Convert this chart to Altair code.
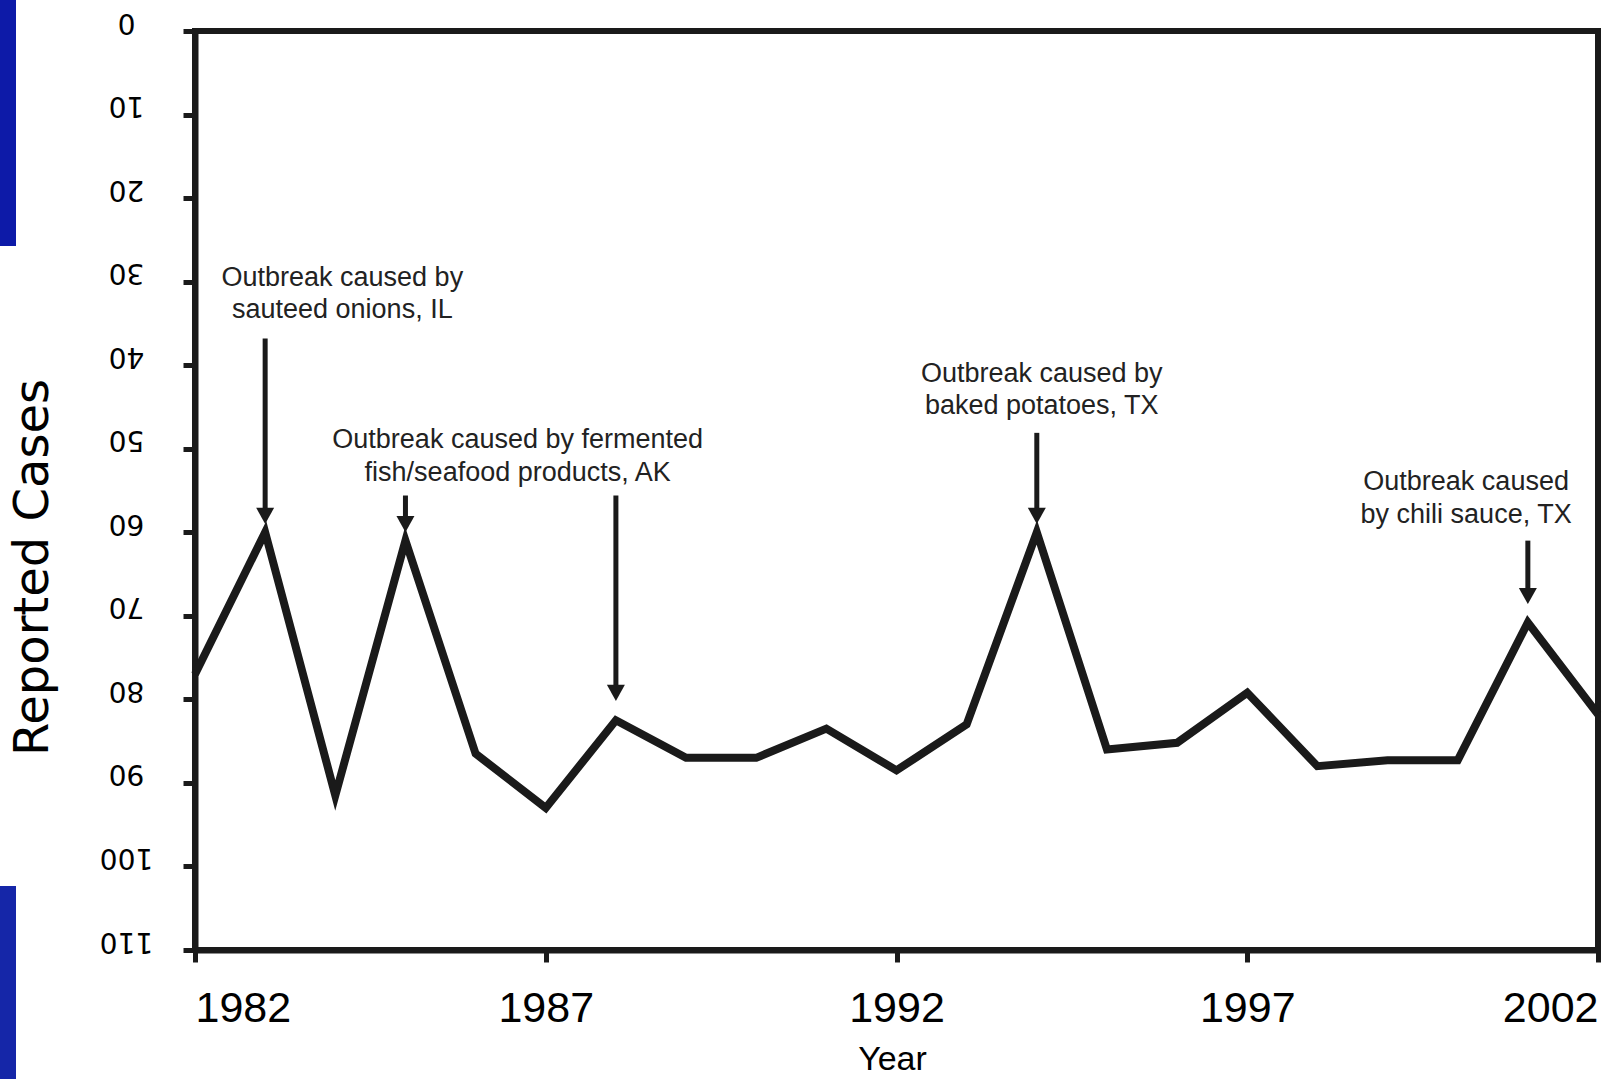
import altair as alt
import pandas as pd

# ---- data ----
years = list(range(1982, 2003))
cases = [77, 60, 91.5, 61, 86.5, 93, 82.5, 87, 87, 83.5, 88.5, 83, 60,
         86, 85.2, 79.2, 88, 87.3, 87.3, 70.8, 81.8]

arrow_years = [1983, 1985, 1988, 1994, 2001]
arrow_start = [36.8, 55.6, 55.6, 48.1, 61.0]
arrow_tip = [59.0, 60.0, 80.2, 59.0, 68.6]

note_x = [1984.1, 1984.1, 1986.6, 1986.6, 1994.07, 1994.07, 2000.12, 2000.12]
note_y = [29.6, 33.4, 49.0, 52.9, 41.1, 44.9, 54.0, 57.9]
note_text = ["Outbreak caused by", "sauteed onions, IL",
             "Outbreak caused by fermented", "fish/seafood products, AK",
             "Outbreak caused by", "baked potatoes, TX",
             "Outbreak caused", "by chili sauce, TX"]

x_ticks = [1982, 1987, 1992, 1997, 2002]
y_ticks = list(range(0, 111, 10))

INK = "#1a1a1a"

df = pd.DataFrame({"year": years, "cases": cases})
arrows = pd.DataFrame({"year": arrow_years, "start": arrow_start, "tip": arrow_tip})
arrows["shaft_end"] = arrows["tip"] - 1.2
notes = pd.DataFrame({"x": note_x, "y": note_y, "text": note_text})

xs = alt.Scale(domain=[1982, 2002], nice=False, zero=False)
ys = alt.Scale(domain=[0, 110], reverse=True, nice=False, zero=False)

x_axis = alt.Axis(
    values=x_ticks, format="d", title="Year", grid=False,
    labelFont="Liberation Sans", labelFontSize=43, labelColor="black",
    labelFlush=True, labelPadding=25, labelOverlap=False,
    tickSize=12, tickWidth=5, tickColor=INK,
    domainColor=INK, domainWidth=6,
    titleFont="Liberation Sans", titleFontSize=34, titleFontWeight="normal",
    titleColor="black", titleX=697, titleY=109,
    titleBaseline="middle", titleAlign="center")

y_axis = alt.Axis(
    values=y_ticks, title="Reported Cases", grid=False,
    labelAngle=180, labelAlign="center", labelBaseline="middle",
    labelFont="DejaVu Sans", labelFontSize=28, labelColor="black",
    labelPadding=57, labelOffset=-10, labelFlush=False, labelOverlap=False,
    tickSize=12, tickWidth=5, tickColor=INK,
    domainColor=INK, domainWidth=6,
    titleFont="DejaVu Sans", titleFontSize=48, titleFontWeight="normal",
    titleColor="black", titleAngle=270, titleX=-162, titleY=536,
    titleAlign="center", titleBaseline="middle")

line = alt.Chart(df).mark_line(
    color=INK, strokeWidth=8, strokeJoin="miter", strokeMiterLimit=10
).encode(
    x=alt.X("year:Q", scale=xs, axis=x_axis),
    y=alt.Y("cases:Q", scale=ys, axis=y_axis),
)

rules = alt.Chart(arrows).mark_rule(color=INK, strokeWidth=5, strokeCap="butt").encode(
    x=alt.X("year:Q", scale=xs, axis=x_axis),
    y=alt.Y("start:Q", scale=ys, axis=y_axis),
    y2="shaft_end:Q",
)

heads = alt.Chart(arrows).mark_point(
    shape="M-1,-1.8L1,-1.8L0,0Z", size=324, filled=True, color=INK,
    opacity=1, strokeWidth=0
).encode(
    x=alt.X("year:Q", scale=xs, axis=x_axis),
    y=alt.Y("tip:Q", scale=ys, axis=y_axis),
)

texts = alt.Chart(notes).mark_text(
    font="Liberation Sans", fontSize=27, color="#222222",
    align="center", baseline="middle"
).encode(
    x=alt.X("x:Q", scale=xs, axis=x_axis),
    y=alt.Y("y:Q", scale=ys, axis=y_axis),
    text="text:N",
)

one = pd.DataFrame({"a": [0]})
blue_top = alt.Chart(one).mark_rect(color="#0d1aa8").encode(
    x=alt.value(-195), x2=alt.value(-179), y=alt.value(-31), y2=alt.value(215))
blue_bot = alt.Chart(one).mark_rect(color="#1526a8").encode(
    x=alt.value(-195), x2=alt.value(-179), y=alt.value(855), y2=alt.value(1048))

chart = alt.layer(line, rules, heads, texts, blue_top, blue_bot).properties(
    width=1403, height=919,
    autosize=alt.AutoSizeParams(type="none"),
    padding={"left": 195, "top": 31, "right": 6, "bottom": 129},
).configure_view(stroke=INK, strokeWidth=6)

chart.save("out.html", embed_options={"renderer": "svg", "actions": False})
